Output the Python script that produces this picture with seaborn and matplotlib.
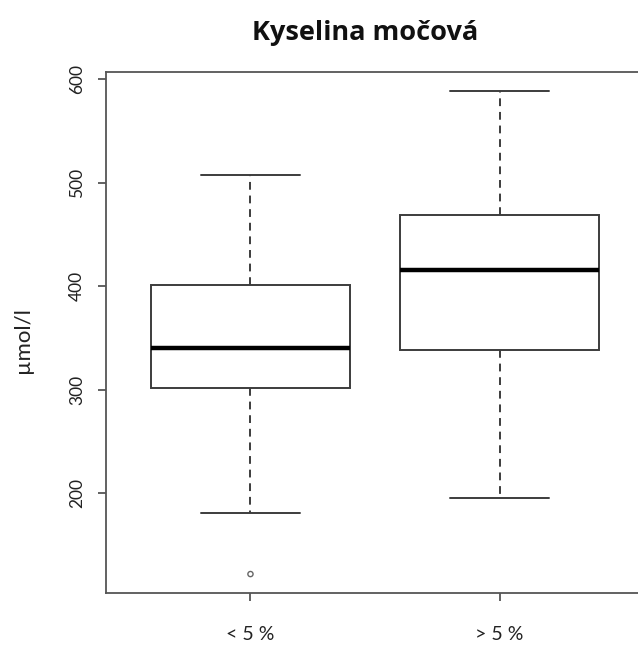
import matplotlib
matplotlib.use("Agg")
import matplotlib.pyplot as plt
import seaborn as sns
import pandas as pd

# Uric acid by group: five-number summaries (lower whisker, Q1, median, Q3, upper whisker)
groups = ["< 5 %", "> 5 %"]
low_group = [180.7, 301.0, 340.0, 401.0, 507.7]
high_group = [195.0, 338.0, 415.5, 469.0, 588.4]
outlier_group = ["< 5 %"]
outlier_values = [121.7]
y_ticks = [200, 300, 400, 500, 600]

df = pd.DataFrame({
    "group": [groups[0]] * len(low_group) + [groups[1]] * len(high_group),
    "value": low_group + high_group,
})
out_df = pd.DataFrame({"group": outlier_group, "value": outlier_values})

sns.set_style("white")
plt.rcParams["font.family"] = ["Lato", "DejaVu Sans"]

fig = plt.figure(figsize=(6.38, 6.48), dpi=100)
ax = fig.add_axes([106 / 638, 1 - 593 / 648, 538 / 638, (593 - 72) / 648])

line_c = "#3c3c3c"
sns.boxplot(
    data=df, x="group", y="value", order=groups, ax=ax,
    width=0.8, whis=1.5, fliersize=0, color="white", linecolor=line_c,
    linewidth=1.4,
    boxprops=dict(facecolor="white", edgecolor=line_c, linewidth=1.4),
    whiskerprops=dict(color=line_c, linestyle=(0, (4, 3)), linewidth=1.4),
    capprops=dict(color=line_c, linewidth=1.4),
    medianprops=dict(color="black", linewidth=3.2),
    showfliers=False,
)
sns.scatterplot(
    data=out_df, x="group", y="value", ax=ax, s=14, marker="o",
    facecolor="none", edgecolor="#666666", linewidth=1.0, zorder=5,
)

ax.set_xlim(-0.58, 1.58)
ax.set_ylim(103.4, 606.8)
ax.set_yticks(y_ticks)
ax.set_yticklabels([str(t) for t in y_ticks], rotation=90, va="center")
ax.set_xlabel("")
ax.set_ylabel("µmol/l", fontsize=16, color="#222222")
ax.yaxis.set_label_coords(-73 / 538, 0.486)

for side in ["left", "bottom", "top"]:
    ax.spines[side].set_visible(True)
    ax.spines[side].set_color("#555555")
    ax.spines[side].set_linewidth(1.3)
ax.spines["right"].set_visible(False)

ax.tick_params(axis="both", which="both", direction="out", length=6,
               width=1.3, color="#555555", labelsize=12.5, labelcolor="#222222")
ax.tick_params(axis="x", pad=18, bottom=True, labelsize=14)
ax.tick_params(axis="y", pad=9, left=True)

fig.text(365 / 638, 1 - 33 / 648, "Kyselina močová", ha="center", va="center",
         fontsize=19.5, fontweight="bold", color="#111111",
         family=["Open Sans", "DejaVu Sans"])

fig.savefig("out.png", dpi=100)
